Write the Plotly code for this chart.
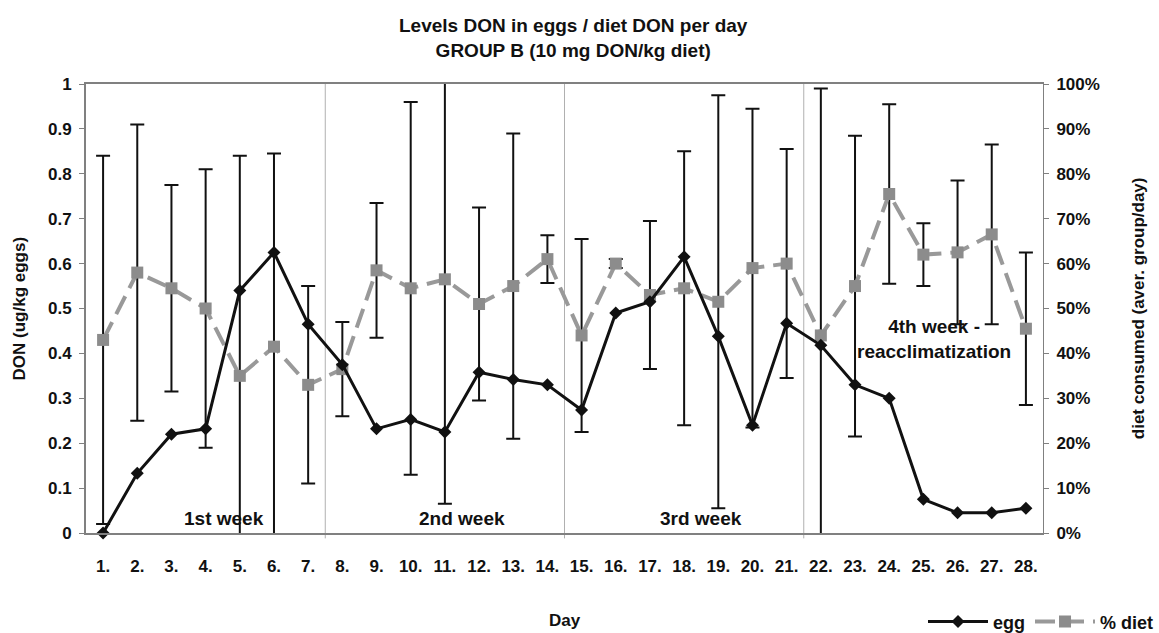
import plotly.graph_objects as go

days = list(range(1, 29))
day_labels = [f"{d}." for d in days]

egg = [0.0, 0.133, 0.22, 0.232, 0.54, 0.625, 0.465, 0.375, 0.232, 0.253,
       0.225, 0.358, 0.342, 0.33, 0.274, 0.49, 0.515, 0.615, 0.438, 0.24,
       0.467, 0.418, 0.33, 0.30, 0.075, 0.045, 0.045, 0.055]

diet = [0.43, 0.58, 0.545, 0.50, 0.35, 0.415, 0.33, 0.365, 0.585, 0.545,
        0.565, 0.51, 0.55, 0.61, 0.44, 0.60, 0.53, 0.545, 0.515, 0.59,
        0.60, 0.44, 0.55, 0.755, 0.62, 0.625, 0.665, 0.455]

diet_err = [0.41, 0.33, 0.23, 0.31, 0.49, 0.43, 0.22, 0.105, 0.15, 0.415,
            0.50, 0.215, 0.34, 0.053, 0.215, 0.01, 0.165, 0.305, 0.46, 0.355,
            0.255, 0.55, 0.335, 0.20, 0.07, 0.16, 0.20, 0.17]

left_ticks = [i / 10 for i in range(11)]
left_labels = ["0", "0.1", "0.2", "0.3", "0.4", "0.5", "0.6", "0.7", "0.8", "0.9", "1"]
right_labels = [f"{i * 10}%" for i in range(11)]

week_bounds = [7.5, 14.5, 21.5]
week_labels = ["1st week", "2nd week", "3rd week", "4th week -<br>reacclimatization"]
week_label_x = [4.55, 11.5, 18.5, 25.3]
week_label_y = [0.033, 0.033, 0.033, 0.432]

FONT = "Liberation Sans, Arial, sans-serif"
INK = "#111111"

def bold(s):
    return f"<b>{s}</b>"

fig = go.Figure()

fig.add_trace(go.Scatter(
    x=days, y=diet, name=bold("% diet"), yaxis="y",
    mode="lines+markers",
    line=dict(color="#999999", width=4, dash="20px,9px"),
    marker=dict(symbol="square", size=12, color="#8c8c8c"),
    error_y=dict(type="data", array=diet_err, visible=True,
                 color=INK, thickness=2, width=7),
))

fig.add_trace(go.Scatter(
    x=days, y=egg, name=bold("egg"), yaxis="y2",
    mode="lines+markers",
    line=dict(color=INK, width=3),
    marker=dict(symbol="diamond", size=10, color=INK),
    cliponaxis=False,
))

for xb in week_bounds:
    fig.add_shape(type="line", xref="x", yref="paper", x0=xb, x1=xb,
                  y0=-0.012, y1=1, line=dict(color="#b0b0b0", width=1), layer="below")

for lbl, lx, ly in zip(week_labels, week_label_x, week_label_y):
    fig.add_annotation(x=lx, y=ly, xref="x", yref="y2", text=bold(lbl), showarrow=False,
                       font=dict(family=FONT, size=19, color=INK), align="center")

fig.add_annotation(
    x=0.509, y=1.0, xref="paper", yref="paper", yanchor="bottom", yshift=21,
    text=bold("Levels DON in eggs / diet DON per day<br>GROUP B (10 mg DON/kg diet)"),
    showarrow=False, font=dict(family=FONT, size=19, color=INK), align="center")

fig.add_annotation(
    x=0.5, y=-0.194, xref="paper", yref="paper", yanchor="middle",
    text=bold("Day"), showarrow=False, font=dict(family=FONT, size=17, color=INK))

fig.add_annotation(
    x=-0.069, y=0.5, xref="paper", yref="paper", xanchor="center", yanchor="middle",
    text=bold("DON (ug/kg eggs)"), textangle=-90, showarrow=False,
    font=dict(family=FONT, size=17, color=INK))

fig.add_annotation(
    x=1.1, y=0.5, xref="paper", yref="paper", xanchor="center", yanchor="middle",
    text=bold("diet consumed (aver. group/day)"), textangle=-90, showarrow=False,
    font=dict(family=FONT, size=17, color=INK))

axis_font = dict(family=FONT, size=17, color=INK)

fig.update_layout(
    width=1159, height=633,
    margin=dict(l=86, r=116, t=84, b=100, autoexpand=False),
    paper_bgcolor="white", plot_bgcolor="white",
    font=dict(family=FONT, color=INK),
    showlegend=True,
    legend=dict(orientation="h", xref="container", x=1.0, xanchor="right",
                yref="paper", y=-0.198, yanchor="middle",
                font=dict(family=FONT, size=18, color=INK),
                traceorder="reversed", itemwidth=60, bgcolor="rgba(0,0,0,0)"),
    xaxis=dict(
        range=[0.5, 28.5], tickvals=days, ticktext=[bold(t) for t in day_labels],
        tickfont=axis_font,
        showgrid=False, zeroline=False, showline=True, linecolor="#808080",
        linewidth=2, mirror=True, ticks="", ticklabelstandoff=17,
    ),
    yaxis=dict(
        side="right", range=[0, 1], tickvals=left_ticks,
        ticktext=[bold(t) for t in right_labels],
        tickfont=axis_font, showgrid=False, zeroline=False,
        showline=True, linecolor="#808080", linewidth=1, ticks="outside",
        ticklen=5, tickcolor="#808080", ticklabelstandoff=4,
    ),
    yaxis2=dict(
        overlaying="y", side="left", range=[0, 1],
        tickvals=left_ticks, ticktext=[bold(t) for t in left_labels],
        tickfont=axis_font, showgrid=False, zeroline=False,
        showline=True, linecolor="#808080", linewidth=2, ticks="outside",
        ticklen=5, tickcolor="#808080", ticklabelstandoff=4,
    ),
)

fig.write_html("out.html")
